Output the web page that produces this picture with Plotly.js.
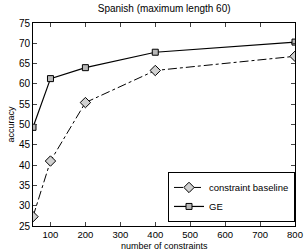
<!DOCTYPE html>
<html><head><meta charset="utf-8">
<script src="https://cdn.plot.ly/plotly-3.0.1.min.js"></script>
<style>body{margin:0;padding:0;background:#fff}#c{width:304px;height:252px}</style>
</head><body><div id="c"></div>
<script>
const constraints = [50, 100, 200, 400, 800];
const baseline = [27.3, 41.0, 55.4, 63.3, 66.8];
const ge = [49.3, 61.3, 64.0, 67.8, 70.3];
const xTicks = [100, 200, 300, 400, 500, 600, 700, 800];
const yTicks = [25, 30, 35, 40, 45, 50, 55, 60, 65, 70, 75];

const traces = [
  {x: constraints, y: baseline, name: 'constraint baseline', mode: 'lines+markers',
   line: {color: '#000', width: 1, dash: 'dashdot'},
   marker: {symbol: 'diamond', size: 8, color: '#d0d0d0', line: {color: '#000', width: 1}}},
  {x: constraints, y: ge, name: 'GE', mode: 'lines+markers',
   line: {color: '#000', width: 1.2},
   marker: {symbol: 'square', size: 6, color: '#b8b8b8', line: {color: '#000', width: 1}}}
];
const layout = {
  width: 304, height: 252,
  margin: {l: 33, r: 9, t: 23, b: 26},
  paper_bgcolor: '#fff', plot_bgcolor: '#fff',
  font: {family: 'Liberation Sans, Arial, sans-serif', color: '#000', size: 10},
  title: {text: 'Spanish (maximum length 60)', font: {size: 10}, x: 0.54, xanchor: 'center', y: 0.98, yanchor: 'top'},
  xaxis: {range: [50, 800], tickvals: xTicks, ticks: 'inside', ticklen: 4, mirror: 'ticks',
          showline: true, linecolor: '#000', linewidth: 1, showgrid: false, zeroline: false,
          tickfont: {size: 9.5}},
  yaxis: {range: [25, 75], tickvals: yTicks, ticks: 'inside', ticklen: 4, mirror: 'ticks',
          showline: true, linecolor: '#000', linewidth: 1, showgrid: false, zeroline: false,
          tickfont: {size: 10},
          title: {text: 'accuracy', font: {size: 9}, standoff: 2}},
  annotations: [{text: 'number of constraints', xref: 'paper', yref: 'paper', x: 0.5, y: -0.127,
                 xanchor: 'center', yanchor: 'bottom', showarrow: false, borderpad: 0, font: {size: 9}}],
  legend: {x: 1, y: 0.02, xanchor: 'right', yanchor: 'bottom', bordercolor: '#000', borderwidth: 1,
           bgcolor: '#fff', font: {size: 9.5}, tracegroupgap: 0, itemwidth: 30},
  showlegend: true
};
Plotly.newPlot('c', traces, layout, {staticPlot: true});
</script></body></html>
